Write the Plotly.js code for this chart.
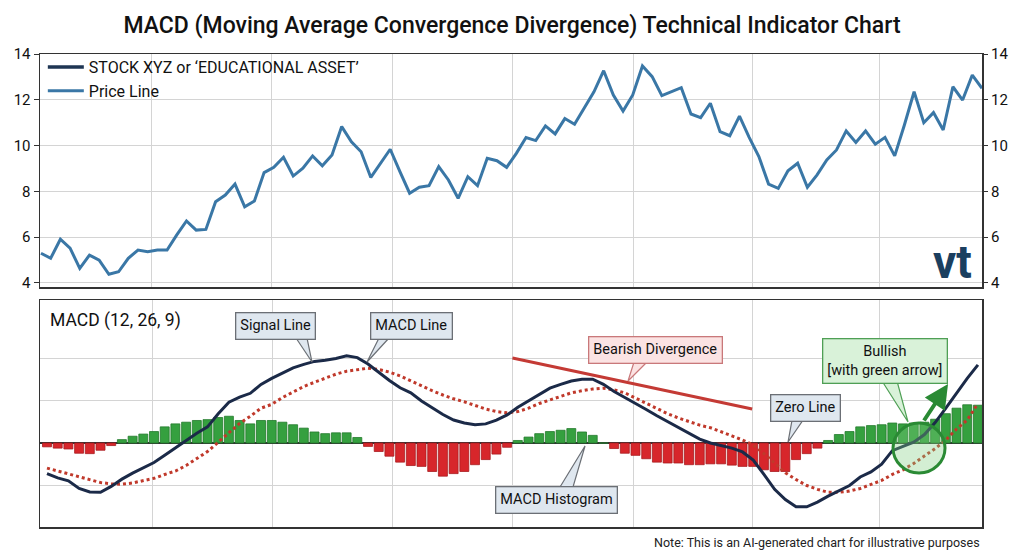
<!DOCTYPE html>
<html>
<head>
<meta charset="utf-8">
<script src="https://cdn.plot.ly/plotly-3.0.1.min.js"></script>
<style>html,body{margin:0;padding:0;background:#fff;}#chart{width:1024px;height:558px;}</style>
</head>
<body>
<div id="chart"></div>
<script>
// ---- DATA ----
const priceLabel = "Price Line";
const stockLabel = "STOCK XYZ or \u2018EDUCATIONAL ASSET\u2019";
const price = [5.30,5.08,5.91,5.52,4.64,5.22,5.00,4.38,4.49,5.08,
  5.44,5.37,5.44,5.44,6.10,6.71,6.31,6.34,7.55,7.84,
  8.32,7.33,7.58,8.82,9.05,9.49,8.67,9.01,9.55,9.12,
  9.59,10.83,10.17,9.73,8.61,9.23,9.84,8.86,7.92,8.18,
  8.25,9.08,8.50,7.70,8.64,8.25,9.45,9.34,9.05,9.66,
  10.35,10.22,10.86,10.51,11.18,10.93,11.63,12.35,13.27,12.21,
  11.51,12.21,13.48,13.01,12.18,12.35,12.53,11.38,11.22,11.85,
  10.61,10.43,11.29,10.36,9.52,8.32,8.13,8.90,9.23,8.18,
  8.72,9.37,9.81,10.64,10.14,10.64,10.06,10.36,9.55,10.90,
  12.35,11.00,11.44,10.68,12.57,11.99,13.08,12.50];
const histogram = [-0.09,-0.12,-0.14,-0.24,-0.25,-0.17,-0.06,0.08,0.16,0.21,
  0.27,0.38,0.45,0.49,0.53,0.55,0.60,0.63,0.53,0.45,
  0.53,0.53,0.49,0.43,0.35,0.26,0.22,0.24,0.24,0.13,
  -0.08,-0.20,-0.31,-0.45,-0.53,-0.55,-0.67,-0.78,-0.72,-0.67,
  -0.51,-0.39,-0.26,-0.10,0.06,0.14,0.22,0.27,0.30,0.34,
  0.26,0.18,0.00,-0.13,-0.24,-0.29,-0.37,-0.45,-0.47,-0.47,
  -0.51,-0.51,-0.49,-0.49,-0.52,-0.55,-0.55,-0.63,-0.67,-0.67,
  -0.39,-0.25,-0.12,0.06,0.20,0.27,0.38,0.41,0.43,0.47,
  0.45,0.47,0.49,0.56,0.69,0.82,0.90,0.89];
const macd = [-0.72,-0.82,-0.89,-1.07,-1.15,-1.16,-1.02,-0.85,-0.71,-0.59,
  -0.46,-0.29,-0.11,0.06,0.23,0.38,0.69,0.96,1.08,1.17,
  1.38,1.52,1.65,1.77,1.85,1.92,1.95,1.99,2.05,2.01,
  1.86,1.66,1.47,1.30,1.18,0.99,0.83,0.67,0.54,0.47,
  0.43,0.45,0.54,0.66,0.84,0.99,1.15,1.29,1.38,1.46,
  1.50,1.50,1.38,1.21,1.07,0.94,0.79,0.64,0.50,0.37,
  0.24,0.09,0.00,-0.06,-0.12,-0.21,-0.40,-0.74,-1.09,-1.33,
  -1.50,-1.50,-1.39,-1.25,-1.12,-1.00,-0.80,-0.68,-0.50,-0.18,
  -0.08,0.02,0.20,0.48,0.82,1.18,1.52,1.84];
const signal = [-0.59,-0.66,-0.72,-0.80,-0.86,-0.93,-0.96,-0.97,-0.94,-0.89,
  -0.83,-0.74,-0.66,-0.53,-0.37,-0.20,0.02,0.25,0.46,0.63,
  0.82,0.91,1.07,1.20,1.33,1.43,1.53,1.62,1.69,1.73,
  1.76,1.73,1.67,1.58,1.46,1.34,1.23,1.13,1.04,0.97,
  0.88,0.80,0.74,0.71,0.74,0.82,0.93,1.01,1.10,1.18,
  1.23,1.27,1.29,1.25,1.18,1.06,0.94,0.81,0.69,0.59,
  0.50,0.42,0.36,0.27,0.17,0.07,-0.05,-0.25,-0.48,-0.70,
  -0.86,-1.00,-1.09,-1.16,-1.16,-1.13,-1.07,-0.98,-0.88,-0.74,
  -0.63,-0.48,-0.31,-0.13,0.07,0.33,0.54,0.93];
const divergence = {x:[43.5, 65.9], y:[2.0, 0.80]};

const dayIdx = price.map((_, i) => i);
const barIdx = histogram.map((_, i) => i);

// ---- helpers for placing decorations in the MACD pane (pixel -> data) ----
const BX0 = 47, BXS = 10.7, BY0 = 443, BYS = 42.5;
const bx = p => (p - BX0) / BXS;
const by = p => (BY0 - p) / BYS;

const FONT = "Roboto, 'Noto Sans', sans-serif";

const traces = [
  {x:[null], y:[null], type:'scatter', mode:'lines', name:stockLabel,
   line:{color:'#1e3553', width:3.5}, xaxis:'x', yaxis:'y', hoverinfo:'skip'},
  {x:dayIdx, y:price, type:'scatter', mode:'lines', name:priceLabel,
   line:{color:'#3a77a6', width:3}, xaxis:'x', yaxis:'y'},
  {x:[0], y:[null], type:'scatter', mode:'lines', showlegend:false, xaxis:'x', yaxis:'y3', hoverinfo:'skip'},
  {x:barIdx, y:histogram, type:'bar', showlegend:false, width:0.84,
   marker:{color:histogram.map(v => v >= 0 ? '#35a03f' : '#d7262b'),
           line:{color:histogram.map(v => v >= 0 ? '#237a2c' : '#a81c1f'), width:0.8}},
   xaxis:'x2', yaxis:'y2'},
  {x:barIdx, y:signal, type:'scatter', mode:'lines', showlegend:false,
   line:{color:'#c0392b', width:3, dash:'dot'}, xaxis:'x2', yaxis:'y2'},
  {x:barIdx, y:macd, type:'scatter', mode:'lines', showlegend:false,
   line:{color:'#1b2a48', width:3}, xaxis:'x2', yaxis:'y2'}
];

function tail(baseL, baseR, baseY, tipX, tipY, fill, line) {
  return {type:'path', xref:'x2', yref:'y2',
    path:`M ${bx(baseL)} ${by(baseY)} L ${bx(tipX)} ${by(tipY)} L ${bx(baseR)} ${by(baseY)} Z`,
    fillcolor:fill, line:{color:line, width:1.2}, layer:'above'};
}

const boxBlue = '#dfe7ef', boxBlueLine = '#6b6f75';
const shapes = [
  {type:'line', xref:'x2', yref:'y2', x0:divergence.x[0], y0:divergence.y[0], x1:divergence.x[1], y1:divergence.y[1],
   line:{color:'#c43a35', width:3}},
  tail(296, 307, 338, 312, 362, boxBlue, boxBlueLine),
  tail(379, 389, 338, 367, 362, boxBlue, boxBlueLine),
  tail(634, 647, 362, 628, 381, '#fbe3e3', '#c9787a'),
  tail(792, 803, 420, 788, 442, boxBlue, boxBlueLine),
  tail(560, 573, 487, 585, 446, boxBlue, boxBlueLine),
  tail(882, 897, 381, 908, 422, '#d9f2d9', '#4f9f55'),
  {type:'circle', xref:'x2', yref:'y2', x0:bx(893), x1:bx(945), y0:by(473), y1:by(423),
   fillcolor:'rgba(130,205,130,0.35)', line:{color:'#2a8a34', width:3}, layer:'above'}
];

function box(text, cx, cy, bg, border, size) {
  return {xref:'x2', yref:'y2', x:bx(cx), y:by(cy), text:text, showarrow:false,
    font:{family:FONT, size:size || 14.5, color:'#111'}, bgcolor:bg, bordercolor:border,
    borderwidth:1.3, borderpad:4, xanchor:'center', yanchor:'middle'};
}

const annotations = [
  {xref:'paper', yref:'paper', x:0.0085, y:1-320/558, xanchor:'left', yanchor:'middle',
   text:'MACD (12, 26, 9)', showarrow:false, font:{family:FONT, size:17.5, color:'#111'}},
  box('Signal Line', 275, 326, boxBlue, boxBlueLine),
  box('MACD Line', 411, 326, boxBlue, boxBlueLine),
  box('Bearish Divergence', 655, 350, '#fbe3e3', '#c9787a'),
  box('Zero Line', 805, 408, boxBlue, boxBlueLine),
  box('MACD Histogram', 556, 500, boxBlue, boxBlueLine),
  box('Bullish<br>[with green arrow]', 885, 361, '#d9f2d9', '#4f9f55'),
  {xref:'x2', yref:'y2', x:bx(948), y:by(384), ax:-25, ay:38, showarrow:true,
   arrowhead:2, arrowsize:1.2, arrowwidth:4, arrowcolor:'#2a8a34', text:''},
  {xref:'paper', yref:'paper', x:0.992, y:1-262/558, xanchor:'right', yanchor:'middle',
   text:'<b>vt</b>', showarrow:false, font:{family:FONT, size:46, color:'#1b3f5f'}},
  {xref:'paper', yref:'paper', x:1.0, y:1-542/558, xanchor:'right', yanchor:'middle',
   text:'Note: This is an AI-generated chart for illustrative purposes', showarrow:false,
   font:{family:FONT, size:12.5, color:'#222'}}
];

const topDomain = [1-287/558, 1-54/558];
const botDomain = [1-527/558, 1-300/558];
const gridC = '#d4d4d4';

const layout = {
  width:1024, height:558,
  margin:{l:40, r:42, t:0, b:0},
  paper_bgcolor:'#fff', plot_bgcolor:'#fff',
  font:{family:FONT, color:'#111'},
  title:{text:'MACD (Moving Average Convergence Divergence) Technical Indicator Chart',
    x:0.5, xanchor:'center', y:1-25/558, yanchor:'middle', yref:'container',
    font:{family:FONT, size:23, color:'#111', weight:500}},
  showlegend:true,
  legend:{x:0.003, y:1-50/558, xanchor:'left', yanchor:'top', bgcolor:'rgba(0,0,0,0)',
    font:{family:FONT, size:16, color:'#111'}, tracegroupgap:0, itemwidth:36},
  xaxis:{domain:[0,1], anchor:'y', range:[-0.1, 97], showticklabels:false, ticks:'',
    tickmode:'array', tickvals:[11.44,23.81,36.19,48.56,61.03,73.30,86.39],
    showgrid:true, gridcolor:gridC, gridwidth:1, zeroline:false,
    showline:true, mirror:true, linecolor:'#333', linewidth:1.5},
  yaxis:{domain:topDomain, anchor:'x', range:[3.825, 14], tickmode:'array', tickvals:[4,6,8,10,12,14],
    ticks:'outside', ticklen:5, tickcolor:'#333', tickfont:{size:15, color:'#111'},
    showgrid:true, gridcolor:gridC, gridwidth:1, zeroline:false,
    showline:true, mirror:true, linecolor:'#333', linewidth:1.5},
  yaxis3:{overlaying:'y', side:'right', anchor:'x', range:[3.825, 14], tickmode:'array', tickvals:[4,6,8,10,12,14],
    ticks:'outside', ticklen:5, tickcolor:'#333', tickfont:{size:15, color:'#111'},
    showgrid:false, zeroline:false, showline:false},
  xaxis2:{domain:[0,1], anchor:'y2', range:[-0.654, 87.38], showticklabels:false, ticks:'',
    tickmode:'array', tickvals:[9.82,21.04,32.25,43.47,54.78,65.90,77.77],
    showgrid:true, gridcolor:gridC, gridwidth:1, zeroline:false,
    showline:true, mirror:true, linecolor:'#333', linewidth:1.5},
  yaxis2:{domain:botDomain, anchor:'x2', range:[-1.976, 3.365], showticklabels:false, ticks:'',
    tickmode:'array', tickvals:[-1,0,1,2], showgrid:true, gridcolor:gridC, gridwidth:1,
    zeroline:true, zerolinecolor:'#333', zerolinewidth:1.5,
    showline:true, mirror:true, linecolor:'#333', linewidth:1.5},
  bargap:0.15,
  shapes:shapes,
  annotations:annotations
};

Plotly.newPlot('chart', traces, layout, {staticPlot:true, displayModeBar:false});
</script>
</body>
</html>
